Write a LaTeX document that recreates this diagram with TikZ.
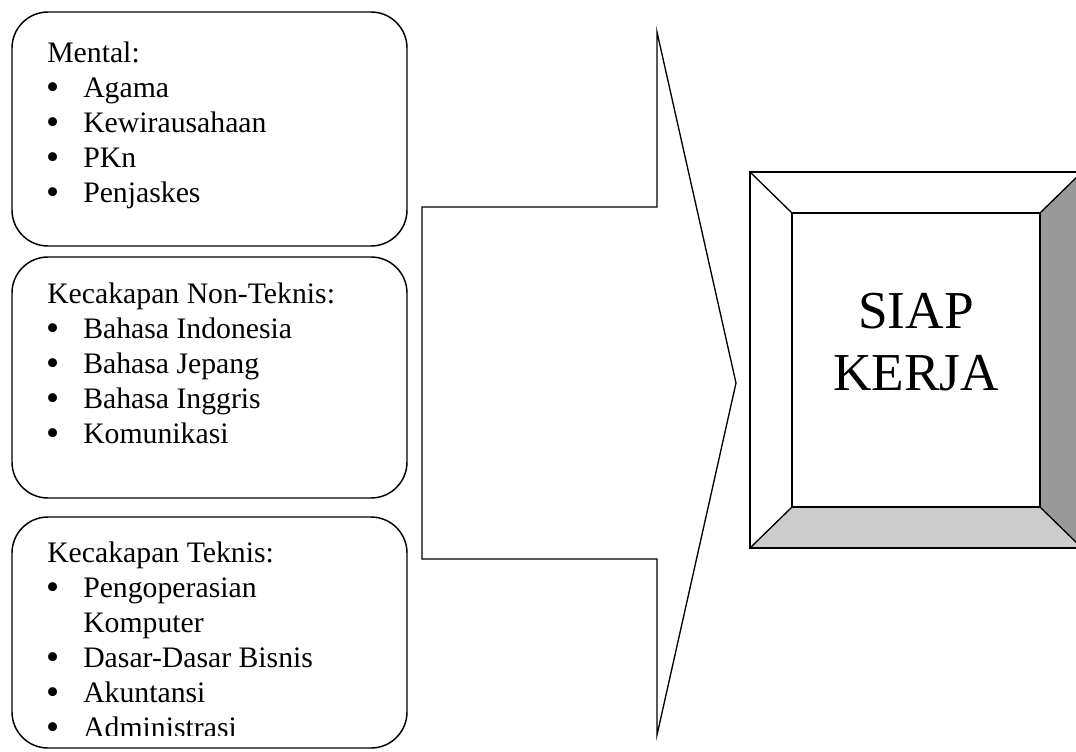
\documentclass[tikz,border=0pt]{standalone}
\usepackage{fontspec}
\setmainfont{Liberation Serif}

\newcommand{\bul}{\makebox[27pt][l]{\hspace{-0.8pt}\smash{\raisebox{-1.5pt}{\fontsize{28pt}{28pt}\selectfont\textbullet}}}}
\newcommand{\hang}{\hspace{27pt}}

\tikzset{
    roundbox/.style={draw, line width=1.1pt, rounded corners=27pt},
    listtext/.style={anchor=north west, inner sep=0pt, align=left,
        font=\fontsize{22.3pt}{26.25pt}\selectfont},
    bevel/.style={draw, line width=1pt, line join=miter}
}

\begin{document}
\begin{tikzpicture}[x=0.75pt, y=-0.75pt]
    \useasboundingbox (0,0) rectangle (1076,751);

    % Draw the three rounded boxes
    \draw[roundbox] (12,12) rectangle (407,246);
    \draw[roundbox] (12,257) rectangle (407,498);
    \draw[roundbox] (12,517) rectangle (407,748);

    % Lists inside the boxes
    \node[listtext] (mental) at (47,37.5) {\strut Mental:\\
        \bul Agama\\ \bul Kewirausahaan\\ \bul PKn\\ \bul Penjaskes};
    \node[listtext] (nonteknis) at (47,278.5) {\strut Kecakapan Non-Teknis:\\
        \bul Bahasa Indonesia\\ \bul Bahasa Jepang\\ \bul Bahasa Inggris\\ \bul Komunikasi};
    \begin{scope}
        \clip (12,517) rectangle (407,735);
        \node[listtext] (teknis) at (47,537.5) {\strut Kecakapan Teknis:\\
            \bul Pengoperasian\\ \hang Komputer\\ \bul Dasar-Dasar Bisnis\\
            \bul Akuntansi\\ \bul Administrasi};
    \end{scope}

    % Draw the big arrow
    \draw[bevel] (422,207) -- (657,207) -- (657,32) -- (736,383)
        -- (657,735) -- (657,559) -- (422,559) -- cycle;

    % Draw the bevelled box
    \fill[white] (750,172) rectangle (1082,548);
    \fill[black!40] (1040,213) -- (1082,172) -- (1082,548) -- (1040,507) -- cycle;
    \fill[black!20] (792,507) -- (1040,507) -- (1082,548) -- (750,548) -- cycle;
    \draw[bevel] (750,172) rectangle (1082,548);
    \draw[bevel] (792,213) rectangle (1040,507);
    \draw[bevel] (750,172) -- (792,213);
    \draw[bevel] (1082,172) -- (1040,213);
    \draw[bevel] (750,548) -- (792,507);
    \draw[bevel] (1082,548) -- (1040,507);

    % Label of the box
    \node[align=center, font=\fontsize{40pt}{47pt}\selectfont] (siap) at (916,342) {SIAP\\KERJA};
\end{tikzpicture}
\end{document}
